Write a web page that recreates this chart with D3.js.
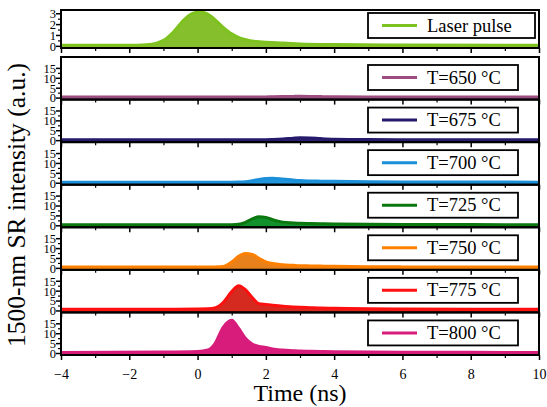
<!DOCTYPE html>
<html>
<head>
<meta charset="utf-8">
<script src="https://cdn.jsdelivr.net/npm/d3@7"></script>
<style>
html,body{margin:0;padding:0;background:#fff;}
svg{display:block;}
</style>
</head>
<body>
<svg id="chart" width="547" height="407"></svg>
<script>
// ---------- DATA ----------
const xTicks = [-4, -2, 0, 2, 4, 6, 8, 10];
const laserTicks = [0, 1, 2, 3];
const srTicks = [0, 5, 10, 15];

const laserTime = [-4, -2, -1.5, -1.2, -1.0, -0.7, -0.4, -0.2, 0, 0.15, 0.4, 0.75, 1.0, 1.25, 1.5, 1.8, 2.5, 3, 4, 6, 10];
const laserValues = [0.05, 0.05, 0.1, 0.25, 0.5, 1.3, 2.4, 2.9, 3.1, 3.1, 2.7, 1.7, 1.1, 0.7, 0.5, 0.38, 0.25, 0.18, 0.12, 0.08, 0.05];

const srTime = [-4, -1, 0, 0.3, 0.5, 0.75, 1.0, 1.2, 1.4, 1.6, 1.8, 2.0, 2.2, 2.5, 2.8, 3.0, 3.3, 3.6, 4.0, 5.0, 6.0, 8.0, 10.0];
const sr650 = [0.3,0.3,0.3,0.3,0.3,0.3,0.3,0.3,0.3,0.3,0.3,0.35,0.4,0.5,0.6,0.65,0.6,0.5,0.4,0.3,0.3,0.3,0.3];
const sr675 = [0.2,0.2,0.2,0.2,0.2,0.2,0.2,0.2,0.2,0.2,0.2,0.25,0.35,0.6,1.0,1.2,1.1,0.8,0.5,0.3,0.25,0.2,0.2];
const sr700 = [0.3,0.3,0.3,0.3,0.3,0.3,0.3,0.35,0.5,1.0,1.7,2.2,2.3,1.9,1.4,1.1,0.9,0.8,0.7,0.5,0.4,0.35,0.3];
const sr725 = [0.3,0.3,0.3,0.3,0.3,0.3,0.3,0.5,1.5,3.2,4.3,4.0,2.8,1.6,1.2,1.0,0.9,0.8,0.7,0.5,0.4,0.35,0.3];
const sr750 = [0.4,0.4,0.4,0.4,0.45,0.7,3.0,5.8,7.3,6.8,4.8,3.0,2.2,1.6,1.3,1.1,1.0,0.9,0.8,0.6,0.5,0.4,0.4];
const sr775 = [0.6,0.6,0.7,0.8,1.2,4.0,9.5,12.5,10.5,6.5,3.4,3.0,2.6,2.1,1.8,1.6,1.4,1.2,1.1,0.8,0.7,0.6,0.6];
const sr800 = [0.3,0.5,0.8,1.5,4.5,13,16.5,12.5,7.5,4.5,3.3,2.8,2.0,1.5,1.2,1.0,0.9,0.8,0.7,0.5,0.4,0.35,0.3];

const srLabels = ["T=650 °C","T=675 °C","T=700 °C","T=725 °C","T=750 °C","T=775 °C","T=800 °C"];
const srSeries = [sr650, sr675, sr700, sr725, sr750, sr775, sr800];
const laserLabel = "Laser pulse";
const xTitle = "Time (ns)";
const yTitle = "1500-nm SR intensity (a.u.)";

// ---------- STYLE ----------
const FONT = "Liberation Serif";
const strokeColors = ["#9b4d80","#251a6b","#1b8fd8","#0a780e","#ff8000","#ff1010","#d81c7c"];
const fillColors   = ["#a0558a","#2c2070","#2196dc","#12902c","#e8801c","#d42a20","#d81c7c"];
const laserStroke = "#7dc21e", laserFill = "#86bf2c";

const svg = d3.select("#chart");
const left = 61, right = 539;
const x = d3.scaleLinear().domain([-4, 10]).range([left, right]);

function drawPanel(top, bottom, yDomain, ticks, minorStep, time, vals, stroke, fill, label, boxW, isLast) {
  const y = d3.scaleLinear().domain(yDomain).range([bottom, top]);
  const g = svg.append("g");
  const data = time.map((t, i) => [t, vals[i]]);
  const clipId = "clip" + Math.round(top);
  svg.append("clipPath").attr("id", clipId).append("rect")
    .attr("x", left).attr("y", top).attr("width", right - left).attr("height", bottom - top);
  const area = d3.area().x(d => x(d[0])).y0(bottom).y1(d => y(d[1])).curve(d3.curveMonotoneX);
  const line = d3.line().x(d => x(d[0])).y(d => y(d[1])).curve(d3.curveMonotoneX);
  const dg = g.append("g").attr("clip-path", `url(#${clipId})`);
  dg.append("path").datum(data).attr("d", area).attr("fill", fill);
  dg.append("path").datum(data).attr("d", line).attr("fill", "none").attr("stroke", stroke).attr("stroke-width", 3);

  const yAxis = d3.axisLeft(y).tickValues(ticks).tickSize(5).tickFormat(d3.format("d"));
  const ya = g.append("g").attr("transform", `translate(${left},0)`).call(yAxis);
  ya.attr("font-family", FONT);
  ya.select(".domain").remove();
  ya.selectAll(".tick line").attr("stroke", "#000").attr("stroke-width", 1.5);
  ya.selectAll(".tick text").attr("font-size", 12.5).attr("font-family", FONT).attr("fill", "#000").attr("x", -5).attr("dy", "0.35em");
  const minor = d3.range(ticks[0], ticks[ticks.length - 1] + 0.001, minorStep).filter(v => !ticks.includes(v));
  const ym = d3.axisLeft(y).tickValues(minor).tickSize(3).tickFormat("");
  const yma = g.append("g").attr("transform", `translate(${left},0)`).call(ym);
  yma.select(".domain").remove();
  yma.selectAll(".tick line").attr("stroke", "#000").attr("stroke-width", 1.2);

  const xa = g.append("g").attr("transform", `translate(0,${bottom})`)
    .call(d3.axisBottom(x).tickValues(xTicks).tickSize(5).tickFormat(isLast ? d3.format("d") : ""));
  xa.attr("font-family", FONT);
  xa.select(".domain").remove();
  xa.selectAll(".tick line").attr("stroke", "#000").attr("stroke-width", 1.5);
  xa.selectAll(".tick text").attr("font-size", 14).attr("font-family", FONT).attr("fill", "#000").attr("y", 14);
  const xm = g.append("g").attr("transform", `translate(0,${bottom})`)
    .call(d3.axisBottom(x).tickValues(d3.range(-3, 10, 2)).tickSize(3).tickFormat(""));
  xm.select(".domain").remove();
  xm.selectAll(".tick line").attr("stroke", "#000").attr("stroke-width", 1.2);

  g.append("rect").attr("x", left).attr("y", top).attr("width", right - left).attr("height", bottom - top)
    .attr("fill", "none").attr("stroke", "#000").attr("stroke-width", 2);

  const lx = 368, ly = top + 3 + (top < 50 ? 0 : 5);
  g.append("rect").attr("x", lx).attr("y", ly).attr("width", boxW).attr("height", 25)
    .attr("fill", "#fff").attr("stroke", "#000").attr("stroke-width", 1.8);
  g.append("line").attr("x1", lx + 14).attr("x2", lx + 49).attr("y1", ly + 12.5).attr("y2", ly + 12.5)
    .attr("stroke", stroke).attr("stroke-width", 3);
  g.append("text").attr("x", lx + 59).attr("y", ly + 18.5).attr("font-size", 18.5)
    .attr("font-family", FONT).attr("fill", "#000").text(label);
}

drawPanel(10, 48, [-0.2, 3.3], laserTicks, 0.5, laserTime, laserValues, laserStroke, laserFill, laserLabel, 167, false);

const pTop = 57, pBottom = 355, n = srSeries.length;
const ph = (pBottom - pTop) / n;
srSeries.forEach((vals, i) => {
  const t0 = pTop + i * ph, t1 = pTop + (i + 1) * ph;
  drawPanel(t0, t1, [-1, 20.5], srTicks, 2.5, srTime, vals, strokeColors[i], fillColors[i], srLabels[i], 150, i === n - 1);
});

svg.append("text").attr("x", 300).attr("y", 401).attr("text-anchor", "middle")
  .attr("font-size", 24).attr("font-family", FONT).attr("fill", "#000").text(xTitle);
svg.append("text").attr("transform", "translate(25,205) rotate(-90)").attr("text-anchor", "middle")
  .attr("font-size", 25.5).attr("font-family", FONT).attr("fill", "#000").text(yTitle);
</script>
</body>
</html>
